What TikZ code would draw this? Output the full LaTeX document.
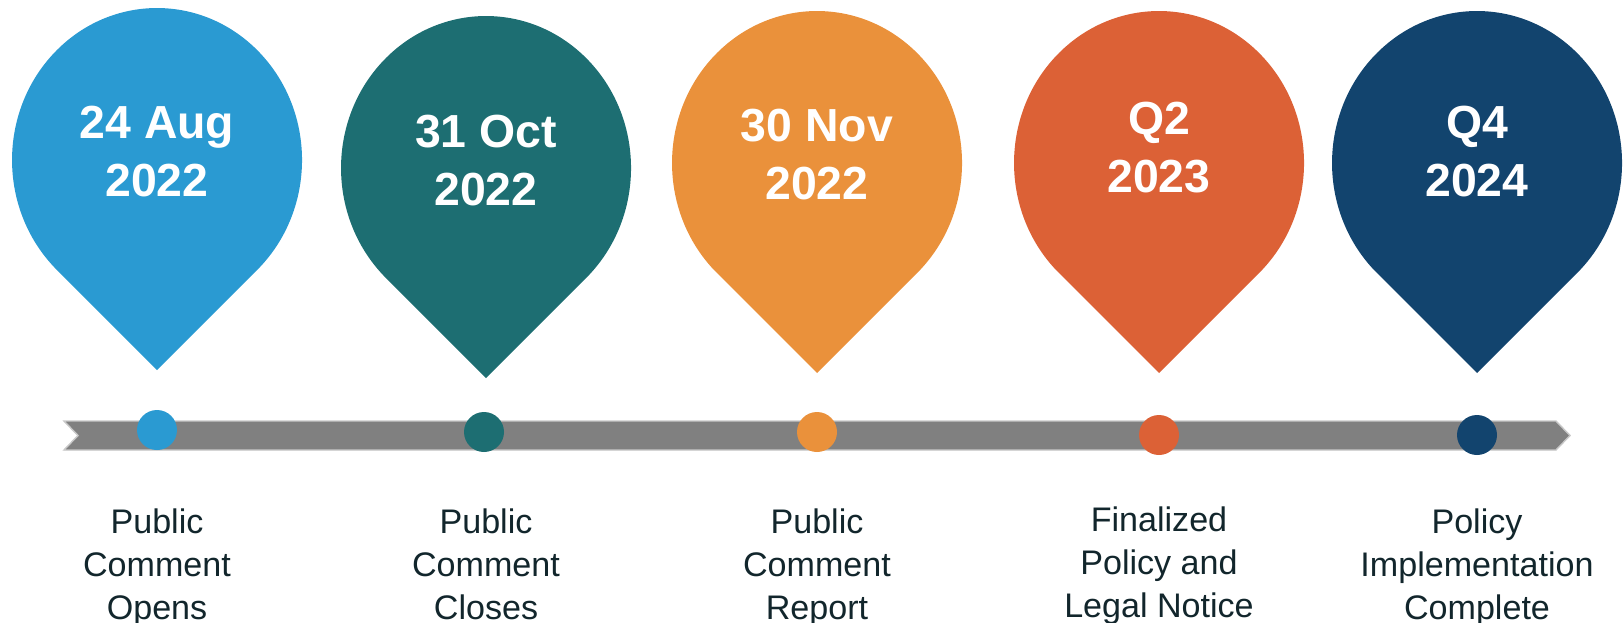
\documentclass[tikz,border=0pt]{standalone}
\usepackage{fontspec}
\setmainfont{Liberation Sans}
\usepackage{tikz}

\definecolor{pinblue}{HTML}{2A9AD2}
\definecolor{pinteal}{HTML}{1D6E72}
\definecolor{pinorange}{HTML}{EA913B}
\definecolor{pinrust}{HTML}{DC6136}
\definecolor{pinnavy}{HTML}{12446E}
\definecolor{barfill}{HTML}{808080}
\definecolor{barline}{HTML}{C8C8C8}
\definecolor{captiontext}{HTML}{12262C}

\begin{document}
\begin{tikzpicture}[
  x=0.1mm, y=0.1mm,
  datetext/.style={text=white, align=center, inner sep=0pt,
    font=\fontsize{13.2}{16.5}\selectfont\bfseries},
  caption/.style={text=captiontext, align=center, inner sep=0pt, anchor=north,
    font=\fontsize{9.7}{12.2}\selectfont},
  dot/.style={circle, inner sep=0pt, minimum size=4mm},
]
\useasboundingbox (0,0) rectangle (1623,622);

% Timeline bar with notched tail and pointed head
\fill[barfill, draw=barline, line width=0.4pt]
  (64,201) -- (1556,201) -- (1570,186.5) -- (1556,172) -- (64,172) -- (78,186.5) -- cycle;

% Map pins (tip, then round head over the top)
\fill[pinblue]   (157,252)  -- ++(-102.5,102.5) arc[start angle=225, end angle=-45, x radius=145, y radius=152] -- cycle;
\fill[pinteal]   (486,244)  -- ++(-102.5,102.5) arc[start angle=225, end angle=-45, x radius=145, y radius=152] -- cycle;
\fill[pinorange] (817,249)  -- ++(-102.5,102.5) arc[start angle=225, end angle=-45, x radius=145, y radius=152] -- cycle;
\fill[pinrust]   (1159,249) -- ++(-102.5,102.5) arc[start angle=225, end angle=-45, x radius=145, y radius=152] -- cycle;
\fill[pinnavy]   (1477,249) -- ++(-102.5,102.5) arc[start angle=225, end angle=-45, x radius=145, y radius=152] -- cycle;

% Dates inside the pins
\node[datetext] (date1) at (157,470)   {24 Aug\\2022};
\node[datetext] (date2) at (486,461)   {31 Oct\\2022};
\node[datetext] (date3) at (817,467.5) {30 Nov\\2022};
\node[datetext] (date4) at (1159,474)  {Q2\\2023};
\node[datetext] (date5) at (1477,470)  {Q4\\2024};

% Milestone dots on the bar
\node[dot, fill=pinblue]   (dot1) at (157,192)  {};
\node[dot, fill=pinteal]   (dot2) at (484,190)  {};
\node[dot, fill=pinorange] (dot3) at (817,190)  {};
\node[dot, fill=pinrust]   (dot4) at (1159,187) {};
\node[dot, fill=pinnavy]   (dot5) at (1477,187) {};

% Milestone descriptions
\node[caption] (label1) at (157,114)  {Public\\Comment\\Opens};
\node[caption] (label2) at (486,114)  {Public\\Comment\\Closes};
\node[caption] (label3) at (817,114)  {Public\\Comment\\Report};
\node[caption] (label4) at (1159,116) {Finalized\\Policy and\\Legal Notice};
\node[caption] (label5) at (1477,114) {Policy\\Implementation\\Complete};

\end{tikzpicture}
\end{document}
